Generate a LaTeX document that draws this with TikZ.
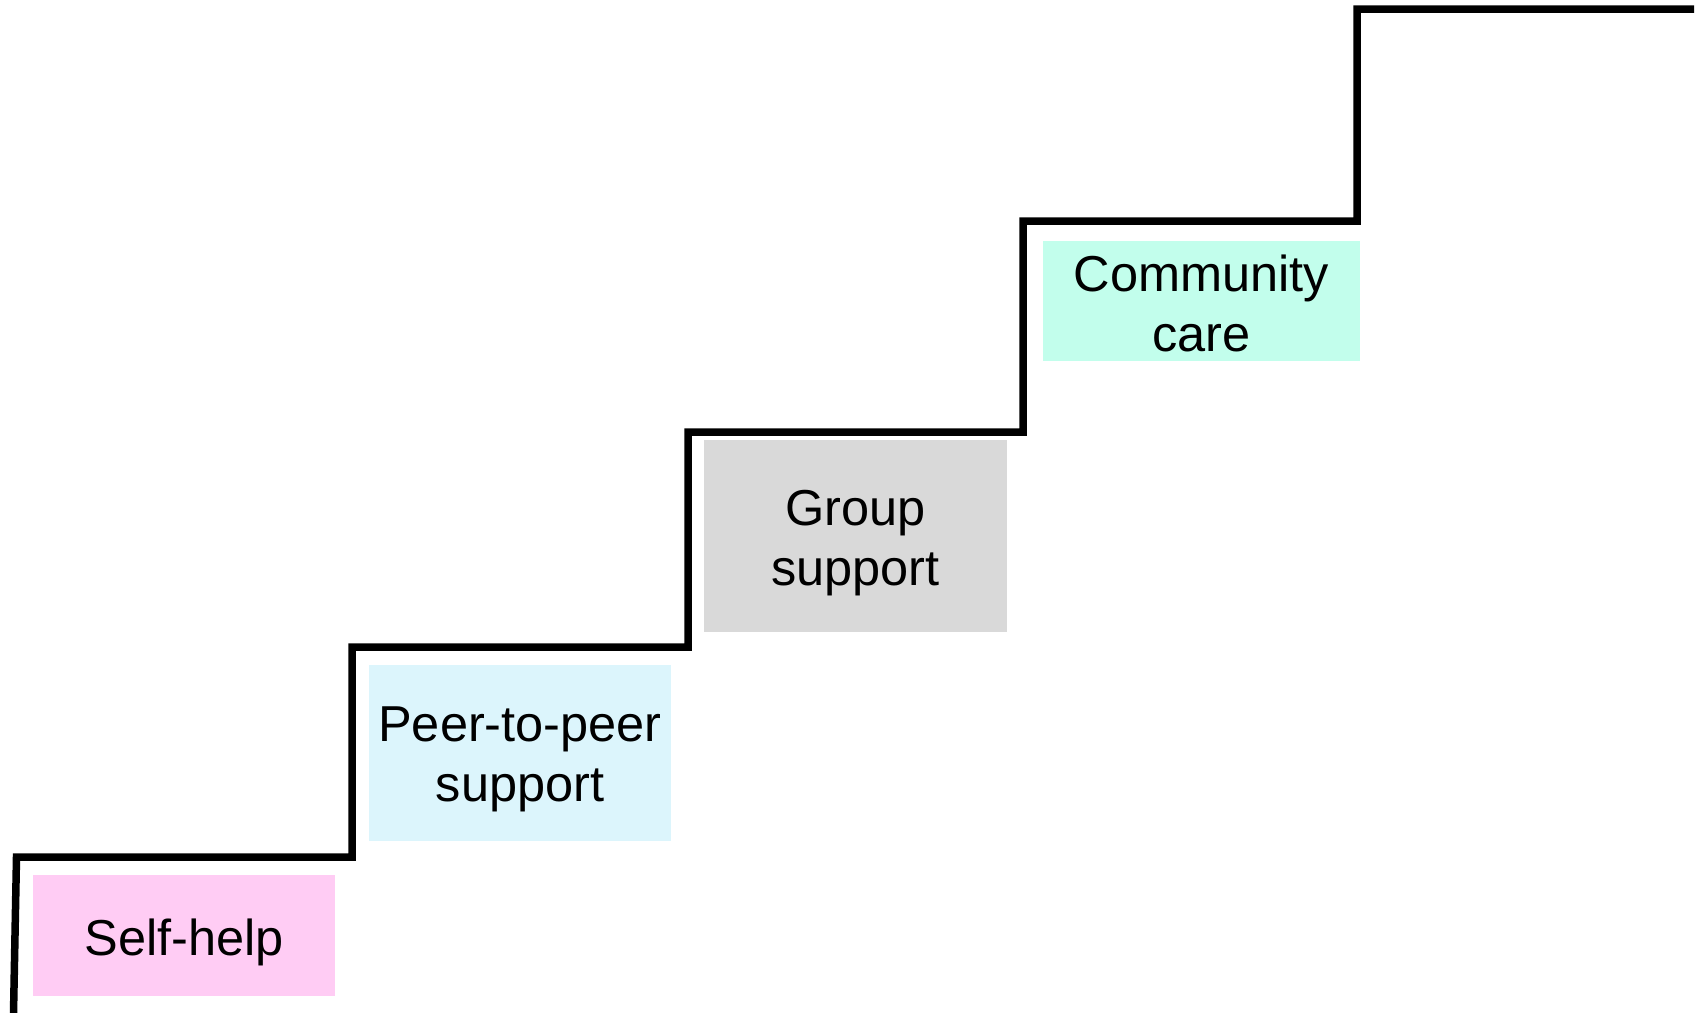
\documentclass[tikz,border=0pt]{standalone}
\usepackage{fontspec}
\setmainfont{Liberation Sans}
\definecolor{pinkbox}{RGB}{255,204,244}
\definecolor{bluebox}{RGB}{220,245,252}
\definecolor{graybox}{RGB}{217,217,217}
\definecolor{tealbox}{RGB}{194,254,236}
\begin{document}
\begin{tikzpicture}[x=1pt,y=-1pt,
  stepbox/.style={inner sep=0pt, align=center, font=\fontsize{50.5}{60}\selectfont, text=black, anchor=center},
  stair/.style={line width=7.5pt, line join=miter, draw=black}]
\useasboundingbox (0,0) rectangle (1704,1012);
\fill[white] (0,0) rectangle (1704,1012);
% boxes
\fill[pinkbox] (33,875) rectangle (335,996);
\fill[bluebox] (369,665) rectangle (671,841);
\fill[graybox] (704,440) rectangle (1007,632);
\fill[tealbox] (1043,241) rectangle (1360,361);
\node[stepbox] (selfhelp) at (184,942) {Self-help};
\node[stepbox] (peer) at (520,759) {Peer-to-peer\\support};
\node[stepbox] (group) at (855.5,543) {Group\\support};
\node[stepbox] (community) at (1201.5,303) {Community\\care};
% staircase
\coordinate (s0) at (13.5,1014);
\coordinate (s1) at (16.5,857);
\coordinate (s2) at (352,857);
\coordinate (s3) at (352,647);
\coordinate (s4) at (688,647);
\coordinate (s5) at (688,432);
\coordinate (s6) at (1023,432);
\coordinate (s7) at (1023,221);
\coordinate (s8) at (1357,221);
\coordinate (s9) at (1357,9);
\coordinate (s10) at (1694,9);
\draw[stair] (s0) -- (s1) -- (s2) -- (s3) -- (s4) -- (s5) -- (s6) -- (s7) -- (s8) -- (s9) -- (s10);
\end{tikzpicture}
\end{document}
